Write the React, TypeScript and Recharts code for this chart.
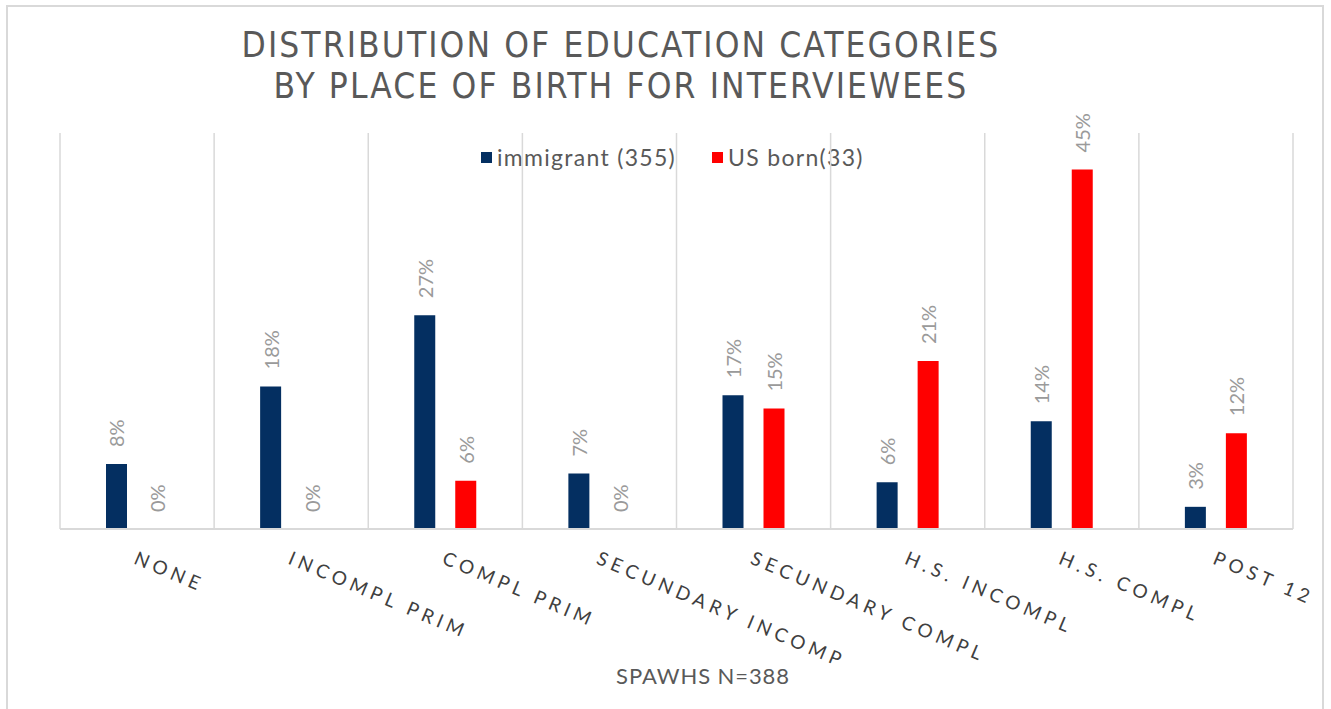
import React from 'react';
import { BarChart, Bar, XAxis, YAxis, CartesianGrid, LabelList } from 'recharts';

const categories = ['NONE', 'INCOMPL PRIM', 'COMPL PRIM', 'SECUNDARY INCOMP', 'SECUNDARY COMPL', 'H.S. INCOMPL', 'H.S. COMPL', 'POST 12'];
const immigrant = [8.2, 18.0, 27.0, 7.0, 16.9, 5.9, 13.6, 2.8];
const usBorn = [0, 0, 6.1, 0, 15.2, 21.2, 45.4, 12.1];
const series = [
  { key: 'immigrant', name: 'immigrant (355)', color: '#042F61' },
  { key: 'usBorn', name: 'US born(33)', color: '#FF0000' },
];
const titleLines = ['DISTRIBUTION OF EDUCATION CATEGORIES', 'BY PLACE OF BIRTH FOR INTERVIEWEES'];
const footnote = 'SPAWHS N=388';

const data = categories.map((c, i) => ({ name: c, immigrant: immigrant[i], usBorn: usBorn[i] }));

const W = 1331;
const H = 709;
const FONT = 'Lato, "Open Sans", sans-serif';

const Tick = (props: any) => {
  const { x, y, payload } = props;
  return (
    <g transform={`translate(${x + 1},${y + 14}) rotate(23)`}>
      <text x={0} y={0} dy="0.7em" textAnchor="start" fill="#404040" fontSize={19} fontFamily={FONT} letterSpacing={4.7}>
        {payload.value}
      </text>
    </g>
  );
};

const ValueLabel = (props: any) => {
  const { x, y, width, value } = props;
  const v = Array.isArray(value) ? value[1] - value[0] : Number(value);
  const cx = x + width / 2;
  const ty = y - 17;
  return (
    <text
      x={cx}
      y={ty}
      transform={`rotate(-90, ${cx}, ${ty})`}
      textAnchor="start"
      dominantBaseline="central"
      fill="#9a9a9a"
      fontSize={20}
      fontFamily={FONT}
    >
      {`${Math.round(v || 0)}%`}
    </text>
  );
};

export default function App() {
  return (
    <div style={{ position: 'absolute', left: 0, top: 0, width: W, height: H, background: '#fff', overflow: 'hidden' }}>
      <div
        style={{
          position: 'absolute',
          left: 6,
          top: 5,
          width: 1318,
          height: 720,
          border: '2px solid #d9d9d9',
          boxSizing: 'border-box',
        }}
      />
      <div
        style={{
          position: 'absolute',
          left: 0,
          top: 25,
          width: 1242,
          textAlign: 'center',
          color: '#595959',
          fontFamily: '"Liberation Sans Narrow", "DejaVu Sans Condensed", sans-serif',
          fontSize: 35,
          fontWeight: 500,
          letterSpacing: 2.1,
          lineHeight: '41px',
        }}
      >
        {titleLines.map((t) => (
          <div key={t}>{t}</div>
        ))}
      </div>
      <div
        style={{
          position: 'absolute',
          left: 481,
          top: 143,
          display: 'flex',
          alignItems: 'center',
          color: '#595959',
          fontFamily: FONT,
          fontSize: 23,
          letterSpacing: 1.3,
        }}
      >
        {series.map((s) => (
          <div key={s.key} style={{ display: 'flex', alignItems: 'center', marginRight: 36 }}>
            <span style={{ display: 'inline-block', width: 11, height: 11, background: s.color, marginRight: 5 }} />
            <span>{s.name}</span>
          </div>
        ))}
      </div>
      <BarChart
        width={W}
        height={H}
        data={data}
        margin={{ top: 133, right: 38, left: 60, bottom: 0 }}
        barSize={21}
        barGap={20}
        style={{ position: 'absolute', left: 0, top: 0 }}
      >
        <CartesianGrid
          horizontal={false}
          stroke="#d9d9d9"
          strokeWidth={1.5}
          verticalCoordinatesGenerator={({ offset }: any) =>
            categories.concat(['']).map((_, i) => offset.left + (i * offset.width) / categories.length)
          }
        />
        <XAxis
          dataKey="name"
          axisLine={{ stroke: '#d9d9d9', strokeWidth: 2 }}
          tickLine={false}
          tick={<Tick />}
          height={180}
          interval={0}
        />
        <YAxis hide domain={[0, 50]} />
        {series.map((s) => (
          <Bar
            key={s.key}
            dataKey={s.key}
            name={s.name}
            fill={s.color}
            minPointSize={0.01}
            isAnimationActive={false}
          >
            <LabelList dataKey={s.key} content={<ValueLabel />} />
          </Bar>
        ))}
      </BarChart>
      <div
        style={{
          position: 'absolute',
          left: 0,
          top: 662,
          width: 1406,
          textAlign: 'center',
          color: '#595959',
          fontFamily: FONT,
          fontSize: 22,
          letterSpacing: 0.9,
        }}
      >
        {footnote}
      </div>
    </div>
  );
}
